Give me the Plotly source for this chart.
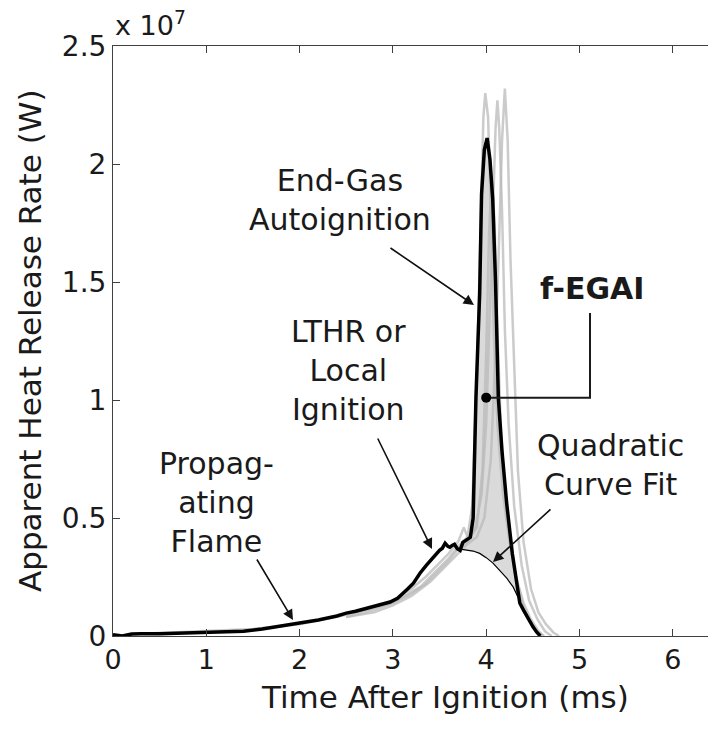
import plotly.graph_objects as go

# ---------------- data (values in units of 1e7 W, time in ms) ----------------
main_t = [0.0, 0.1, 0.2, 0.3, 0.5, 0.7, 1.0, 1.2, 1.4, 1.6, 1.8, 2.0, 2.2, 2.4, 2.5, 2.6, 2.8,
          2.97, 3.05, 3.11, 3.16, 3.22, 3.29, 3.36, 3.43, 3.50, 3.53, 3.56, 3.59, 3.61, 3.64,
          3.66, 3.69, 3.72, 3.75, 3.79, 3.83, 3.86, 3.89, 3.93, 3.95, 3.98, 4.01, 4.04, 4.07,
          4.10, 4.12, 4.13, 4.17, 4.22, 4.28, 4.33, 4.36, 4.40, 4.44, 4.50, 4.54, 4.58]
main_q = [0.005, 0.0, 0.008, 0.01, 0.01, 0.012, 0.014, 0.016, 0.02, 0.03, 0.042, 0.055, 0.068,
          0.085, 0.097, 0.105, 0.125, 0.144, 0.16, 0.18, 0.20, 0.224, 0.266, 0.30, 0.334, 0.363,
          0.372, 0.393, 0.38, 0.376, 0.385, 0.389, 0.37, 0.363, 0.397, 0.406, 0.418, 0.50, 1.01,
          1.45, 1.87, 2.06, 2.11, 2.02, 1.85, 1.50, 1.20, 1.01, 0.78, 0.56, 0.35, 0.21, 0.14,
          0.11, 0.08, 0.04, 0.017, 0.0]

fit_t = [3.74, 3.80, 3.86, 3.93, 4.00, 4.07, 4.14, 4.22, 4.29, 4.34]
fit_q = [0.367, 0.365, 0.360, 0.350, 0.332, 0.31, 0.28, 0.245, 0.207, 0.165]

grayA_t = [0.3, 1.0, 1.5, 2.0, 2.5, 2.8, 3.0, 3.2, 3.35, 3.5, 3.6, 3.7, 3.76, 3.8, 3.85, 3.9,
           3.94, 3.97, 3.99, 4.02, 4.05, 4.08, 4.12, 4.18, 4.25, 4.32, 4.40, 4.48, 4.56, 4.62]
grayA_q = [0.01, 0.02, 0.03, 0.05, 0.09, 0.12, 0.15, 0.20, 0.25, 0.31, 0.35, 0.40, 0.46, 0.42,
           0.55, 1.1, 1.8, 2.2, 2.30, 2.2, 1.8, 1.3, 0.9, 0.6, 0.4, 0.25, 0.14, 0.07, 0.02, 0.0]
grayB_t = [2.5, 2.8, 3.0, 3.2, 3.35, 3.5, 3.6, 3.7, 3.8, 3.88, 3.95, 4.0, 4.04, 4.08, 4.10,
           4.12, 4.14, 4.17, 4.20, 4.24, 4.30, 4.38, 4.46, 4.55, 4.63, 4.70]
grayB_q = [0.08, 0.11, 0.14, 0.18, 0.22, 0.28, 0.32, 0.37, 0.40, 0.45, 0.6, 0.9, 1.4, 1.9, 2.15,
           2.27, 2.15, 1.8, 1.3, 0.9, 0.55, 0.3, 0.15, 0.07, 0.02, 0.0]
grayC_t = [2.5, 2.8, 3.0, 3.2, 3.4, 3.5, 3.6, 3.7, 3.8, 3.9, 3.98, 4.05, 4.10, 4.14, 4.17,
           4.20, 4.23, 4.26, 4.30, 4.34, 4.40, 4.48, 4.56, 4.64, 4.72, 4.78]
grayC_q = [0.08, 0.10, 0.13, 0.17, 0.23, 0.27, 0.31, 0.35, 0.39, 0.42, 0.5, 0.75, 1.2, 1.7, 2.1,
           2.32, 2.1, 1.6, 1.1, 0.7, 0.4, 0.2, 0.1, 0.05, 0.015, 0.0]
grayD_t = [2.5, 3.0, 3.3, 3.5, 3.6, 3.7, 3.8, 3.9, 3.96, 4.0, 4.03, 4.06, 4.09, 4.12, 4.16,
           4.22, 4.30, 4.40, 4.50, 4.60]
grayD_q = [0.09, 0.14, 0.21, 0.29, 0.33, 0.38, 0.42, 0.46, 0.7, 1.2, 1.7, 1.95, 1.75, 1.3, 0.85,
           0.5, 0.28, 0.12, 0.04, 0.0]

fegai_t = [4.0]
fegai_q = [1.01]

x_ticks = [0, 1, 2, 3, 4, 5, 6]
y_ticks = [0, 0.5, 1, 1.5, 2, 2.5]
y_tick_labels = ["0", "0.5", "1", "1.5", "2", "2.5"]
SCALE = 1e7

# ---------------- layout geometry ----------------
W, H = 708, 731
L, T, B, R = 113, 46, 95, 0
PW, PH = W - L - R, H - T - B
XMAX = PW / 93.3
YMAX = 2.5 * SCALE
FONT = "DejaVu Sans"
TXT = "#1a1a1a"


def px2x(px):
    return (px - L) / PW * XMAX


def py2y(py):
    return (T + PH - py) / PH * YMAX


def s(vals):
    return [v * SCALE for v in vals]


fig = go.Figure()

# shaded area between main curve and quadratic fit
poly_t = [t for t in main_t if fit_t[0] <= t <= fit_t[-1]]
poly_q = [q for t, q in zip(main_t, main_q) if fit_t[0] <= t <= fit_t[-1]]
fig.add_trace(go.Scatter(x=poly_t + fit_t[::-1], y=s(poly_q + fit_q[::-1]), fill="toself",
                         fillcolor="#dadada", line=dict(width=0), mode="lines",
                         hoverinfo="skip", showlegend=False))

for gt, gq in [(grayA_t, grayA_q), (grayB_t, grayB_q), (grayC_t, grayC_q), (grayD_t, grayD_q)]:
    fig.add_trace(go.Scatter(x=gt, y=s(gq), mode="lines",
                             line=dict(color="rgba(185,185,185,0.75)", width=2.5),
                             showlegend=False))

fig.add_trace(go.Scatter(x=fit_t, y=s(fit_q), mode="lines",
                         line=dict(color="black", width=1.2), showlegend=False))
fig.add_trace(go.Scatter(x=main_t, y=s(main_q), mode="lines",
                         line=dict(color="black", width=3.5), showlegend=False))

# f-EGAI connector
cx = px2x(590)
fig.add_trace(go.Scatter(x=[fegai_t[0], cx, cx], y=[fegai_q[0] * SCALE, fegai_q[0] * SCALE, py2y(313)],
                         mode="lines", line=dict(color="#1a1a1a", width=2), showlegend=False))
fig.add_trace(go.Scatter(x=fegai_t, y=s(fegai_q), mode="markers",
                         marker=dict(color="black", size=10), showlegend=False))

annotations = []


def text_ann(txt, px, py, size=30):
    annotations.append(dict(x=px2x(px), y=py2y(py), xref="x", yref="y", text=txt,
                            showarrow=False, xanchor="center", yanchor="middle",
                            font=dict(family=FONT, size=size, color=TXT)))


def arrow_ann(tail, head):
    annotations.append(dict(x=px2x(head[0]), y=py2y(head[1]), ax=px2x(tail[0]), ay=py2y(tail[1]),
                            xref="x", yref="y", axref="x", ayref="y", text="", showarrow=True,
                            arrowhead=2, arrowsize=1.3, arrowwidth=1.6, arrowcolor="#111111"))


text_ann("End-Gas<br>Autoignition", 340, 200)
text_ann("LTHR or<br>Local<br>Ignition", 348, 370)
text_ann("Propag-<br>ating<br>Flame", 216, 502)
text_ann("Quadratic<br>Curve Fit", 610, 465)
text_ann("<b>f-EGAI</b>", 592, 288)
arrow_ann((389, 247), (474, 305))
arrow_ann((377, 437), (432, 549))
arrow_ann((256, 558), (293, 620))
arrow_ann((552, 508), (493, 562))

# exponent label
annotations.append(dict(x=0, y=1 + 3 / PH, xref="paper", yref="paper", xanchor="left",
                        yanchor="bottom", showarrow=False, text="x 10<sup>7</sup>",
                        font=dict(family=FONT, size=27, color=TXT)))
# axis titles
annotations.append(dict(x=(445 - L) / PW, y=(T + PH - 697) / PH, xref="paper", yref="paper",
                        xanchor="center", yanchor="middle", showarrow=False,
                        text="Time After Ignition (ms)", font=dict(family=FONT, size=31, color=TXT)))
annotations.append(dict(x=(30 - L) / PW, y=0.5, xref="paper", yref="paper", textangle=-90,
                        xanchor="center", yanchor="middle", showarrow=False,
                        text="Apparent Heat Release Rate (W)",
                        font=dict(family=FONT, size=31, color=TXT)))

fig.update_layout(
    width=W, height=H, margin=dict(l=L, r=R, t=T, b=B),
    paper_bgcolor="white", plot_bgcolor="white",
    annotations=annotations, showlegend=False,
    font=dict(family=FONT, color=TXT),
)
fig.update_xaxes(range=[0, XMAX], tickvals=x_ticks, ticks="inside", ticklen=7,
                 tickcolor="#404040", showline=True, linecolor="#404040", linewidth=1,
                 mirror="ticks", showgrid=False, zeroline=False,
                 tickfont=dict(family=FONT, size=27, color=TXT))
fig.update_yaxes(range=[0, YMAX], tickvals=[v * SCALE for v in y_ticks], ticktext=y_tick_labels,
                 ticks="inside", ticklen=7, tickcolor="#404040", showline=True,
                 linecolor="#404040", linewidth=1, showgrid=False, zeroline=False,
                 tickfont=dict(family=FONT, size=28, color=TXT))

fig.write_html("out.html")
